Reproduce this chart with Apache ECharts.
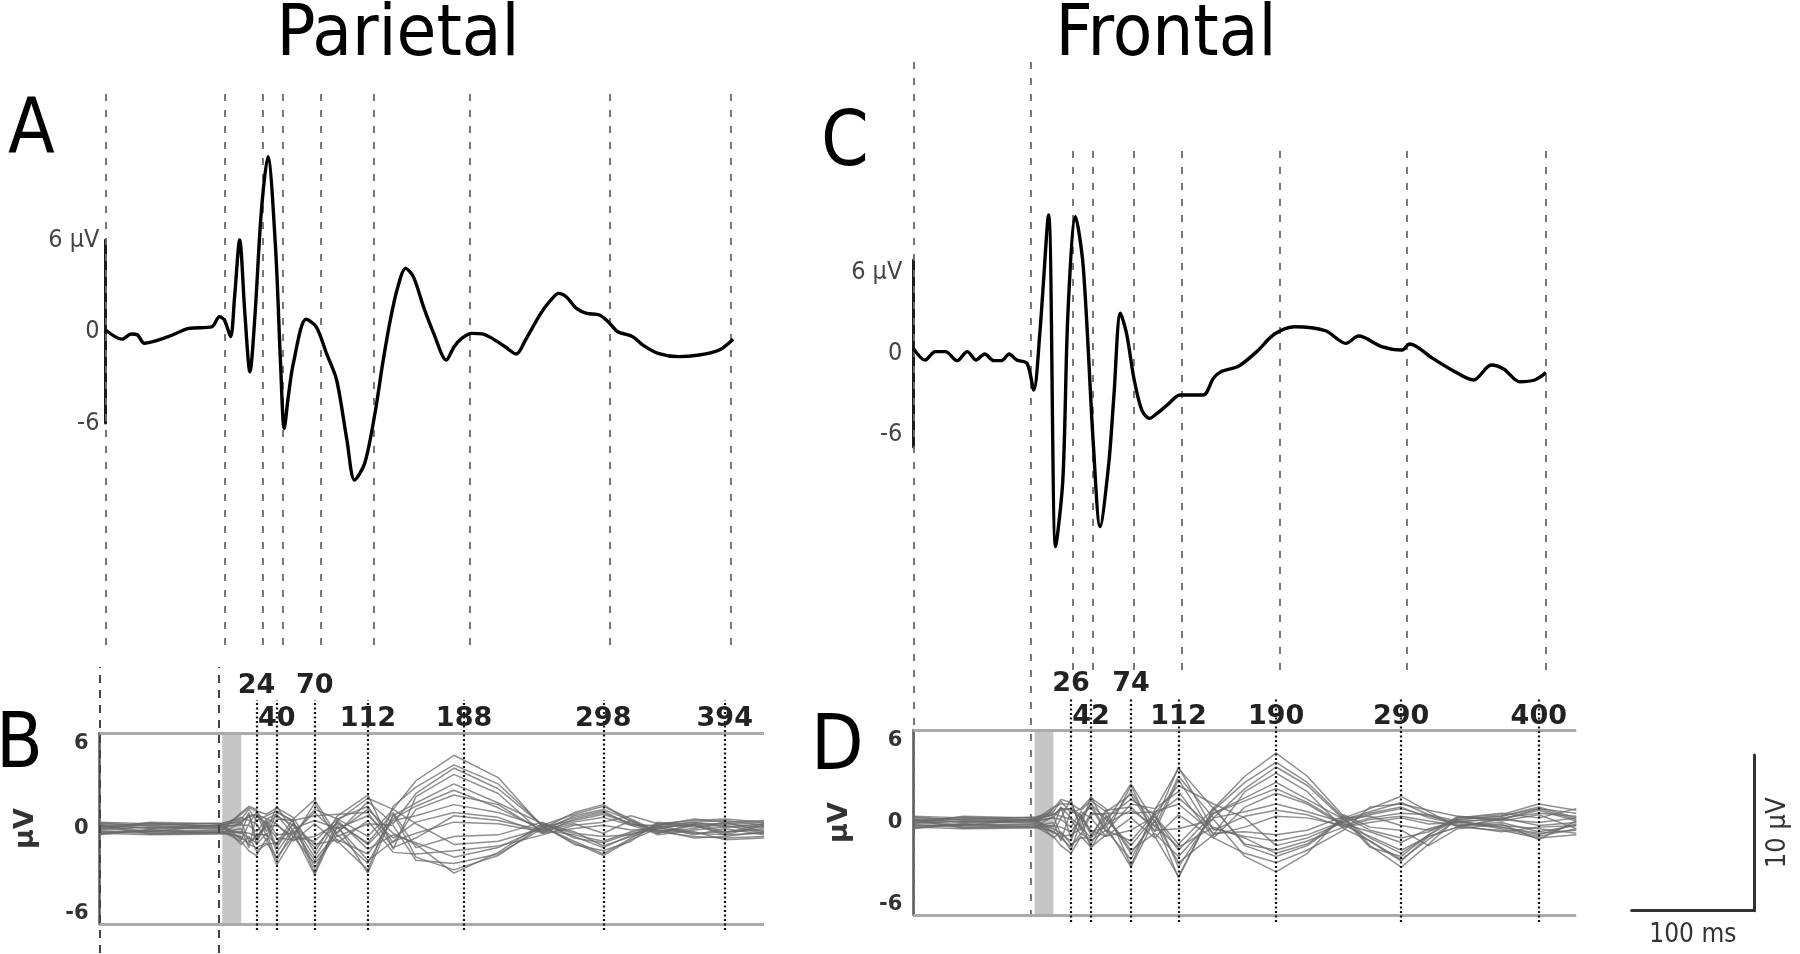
<!DOCTYPE html>
<html>
<head>
<meta charset="utf-8">
<title>Parietal / Frontal ERP</title>
<script src="https://cdn.jsdelivr.net/npm/echarts@6.0.0/dist/echarts.min.js"></script>
<style>
  html, body { margin: 0; padding: 0; background: #fff; }
  #chart { width: 1800px; height: 954px; }
</style>
</head>
<body>
<div id="chart"></div>
<script>
// ---- panel A / C: averaged ERP trace (time in ms, amplitude in µV) ----
const parietalErpMs = [-100, -87, -79.6, -74.7, -69.3, -50.3, -34.2, -16.1, -10, -6, -1.2, 2, 6, 10.1, 14.1, 18.2, 23, 28.3, 34.3, 38.3, 41.2, 44.4, 48.4, 58.5, 66.5, 74.6, 82.6, 90.7, 96.8, 104.8, 112.9, 119, 125, 131, 137.1, 143.2, 151.2, 159.3, 169.3, 175.4, 181.4, 189.5, 197.5, 205.6, 215.7, 224.5, 231.8, 243.9, 252, 258, 264, 272.1, 280.2, 290.3, 298.3, 304.4, 316.5, 324.6, 336.6, 352.8, 368.9, 385, 395.9];
const parietalErpUv = [0.1, -0.5, -0.16, -0.23, -0.77, -0.34, 0.2, 0.3, 0.97, 0.75, -0.34, 2.28, 6.0, 1.19, -2.64, 1.19, 7.75, 11.46, 5.56, -2.09, -6.36, -4.28, -2.09, 0.8, 0.31, -1.43, -3.18, -7.1, -9.74, -8.64, -5.36, -2.09, 0.75, 2.94, 4.14, 3.6, 1.63, -0.12, -1.87, -1.0, -0.45, -0.12, -0.16, -0.45, -1.0, -1.48, -0.56, 1.19, 2.07, 2.5, 2.28, 1.52, 1.19, 1.08, 0.54, 0, -0.34, -0.89, -1.43, -1.65, -1.54, -1.21, -0.51];

const frontalErpMs = [-100, -90.7, -82.7, -74.6, -65.4, -57.3, -50.4, -43.6, -36.3, -30.3, -24.2, -18.2, -10.1, -4.8, 0, 6.9, 12.5, 18.2, 22.2, 28.2, 34.3, 42.4, 47.6, 54.5, 58.5, 63.7, 68.5, 74.6, 80.6, 86.7, 92.7, 100.8, 110.9, 129.1, 137.2, 143.1, 157.3, 171.4, 185.5, 201.6, 225.8, 241.9, 252, 270.1, 286.3, 292.3, 310.5, 326.6, 342.8, 356.8, 366.9, 379, 391.1, 400];
const frontalErpUv = [0.33, -0.42, 0.12, 0.12, -0.46, 0.12, -0.42, -0.03, -0.46, -0.46, -0.03, -0.42, -0.63, -2.34, 1.3, 8.89, -12.4, -8.1, 2.58, 8.78, 5.57, -5.98, -11.1, -7.05, -2.77, 2.58, 1.3, -1.7, -3.63, -4.16, -3.84, -3.3, -2.66, -2.66, -1.59, -1.17, -0.8, 0.12, 1.25, 1.72, 1.46, 0.65, 1.12, 0.44, 0.22, 0.61, -0.31, -1.1, -1.7, -0.74, -1.01, -1.81, -1.7, -1.23];

// ---- latencies marked with guide lines (ms) ----
const parietalPeaks = [24, 40, 70, 112, 188, 298, 394];
const frontalPeaks = [26, 42, 74, 112, 190, 290, 400];
const epochLines = [-100, -6];
const blankWindow = [-3, 12];

// ---- panel B / D: butterfly plot, one row per channel sampled at the knot times ----
const parietalKnotsMs = [-100, -60, -3, 12, 18, 24, 32, 40, 53, 70, 88, 112, 132, 150, 180, 215, 250, 275, 298, 320, 341, 370, 394, 425];
const parietalChannels = [
  [0.3, 0.2, 0.35, 0.6, 1.2, 0.5, 0.8, 1.1, 0.4, -2.8, 0.5, 1.9, 1.2, 3.0, 4.6, 3.2, 0.1, -0.8, -1.6, -0.6, 0.3, 0.5, 0.6, 0.4],
  [-0.2, -0.3, -0.2, -0.8, -1.4, -1.7, -0.6, -2.3, -0.6, 1.6, -0.8, -2.6, 1.4, 2.6, 4.0, 2.8, 0.2, 0.9, 1.4, 0.6, -0.2, -0.5, -0.6, -0.5],
  [0.1, 0.35, 0.1, 0.9, 1.3, 1.1, 0.9, 1.3, 0.7, -1.5, 0.8, 2.1, -1.3, 2.0, 3.4, 2.2, -0.3, 0.6, 1.0, 0.3, 0.1, 0.4, 0.5, 0.2],
  [-0.35, -0.1, -0.3, -0.5, -1.0, -1.2, -0.9, -1.8, -0.5, -2.2, -0.4, -2.2, 0.8, 1.6, 2.8, 1.6, 0.3, -0.5, -1.2, -0.4, 0.2, -0.3, -0.4, -0.3],
  [0.2, -0.2, 0.25, 0.4, 0.8, 0.9, 0.6, 0.9, -0.4, 1.2, 0.6, 1.4, -0.9, 1.2, 2.1, 1.5, -0.2, 0.8, 1.2, 0.5, -0.3, 0.3, 0.3, 0.4],
  [-0.1, 0.1, -0.05, -0.3, -0.6, -0.9, 0.4, -1.2, 0.3, -1.0, -0.7, -1.6, 0.5, 0.8, 1.5, 1.0, 0.1, -0.9, -1.7, -0.7, 0.0, -0.2, -0.7, -0.6],
  [0.4, 0.3, 0.3, 0.7, 0.5, 0.3, -0.8, 0.6, 0.5, 0.8, 0.9, 1.0, -1.2, -0.6, 0.8, 0.5, -0.1, 0.4, 0.7, 0.2, 0.2, 0.6, 0.4, 0.5],
  [-0.3, -0.4, -0.35, -0.2, -0.3, -0.5, 0.2, -0.6, -0.7, -0.5, 0.3, -0.9, 1.0, -1.2, -0.5, -0.4, 0.4, -0.6, -0.9, -0.3, -0.1, -0.6, -0.5, -0.2],
  [0.0, 0.25, 0.15, 0.2, 0.2, -0.2, 0.6, 0.3, -0.8, 0.3, -0.9, 0.5, -1.5, -1.6, -1.4, -1.1, -0.4, 0.2, 0.4, 0.8, 0.3, 0.1, 0.2, -0.3],
  [0.25, 0.0, 0.2, -1.0, -0.5, -1.4, -1.0, -0.9, 0.6, 1.8, -0.5, 0.3, 0.2, -2.0, -2.2, -1.6, 0.0, 1.0, 1.5, 0.4, -0.4, -0.1, 0.1, 0.1],
  [-0.25, -0.15, -0.1, 1.0, 1.4, 1.2, -0.2, 1.4, -0.2, -2.9, 0.2, -2.8, 0.9, -1.8, -2.6, -1.7, 0.2, -1.0, -1.4, -0.8, 0.4, 0.2, -0.3, 0.3],
  [0.1, -0.3, -0.25, 0.0, -1.2, 0.8, 0.3, -1.5, 0.0, 0.5, 0.0, 0.8, -0.6, 0.4, 1.0, 0.7, -0.3, 0.0, 0.2, -0.1, 0.0, 0.3, -0.2, 0.0],
  [0.15, 0.05, 0.2, 0.5, 0.7, 0.9, 0.3, 0.8, 0.2, -1.2, 0.4, -1.0, 0.6, 1.4, 2.4, 1.3, -0.1, -0.4, -0.8, -0.2, 0.1, 0.2, 0.3, 0.1],
  [-0.15, -0.2, -0.15, -0.6, -0.9, -0.4, -0.4, -1.0, 0.3, -1.8, 0.5, -1.3, -0.4, -0.9, -1.8, -1.2, 0.1, 0.5, 0.9, 0.3, -0.1, -0.3, -0.2, -0.1],
  [0.35, 0.15, 0.05, 0.3, 0.9, -0.7, 0.5, -0.4, -0.3, 1.0, -0.3, 1.7, 0.3, 2.2, 3.8, 2.5, 0.2, -0.3, -0.5, -0.4, 0.2, 0.4, 0.1, 0.3],
  [-0.05, 0.4, 0.3, -0.7, 0.3, 1.0, -0.5, 1.0, 0.5, -2.5, 0.1, -2.0, -0.8, -0.3, 0.4, 0.3, -0.2, 0.3, -0.3, 0.5, -0.2, 0.0, 0.4, -0.2],
  [0.2, -0.35, -0.3, 0.4, -0.8, -0.6, 0.1, 0.2, -0.5, -0.8, 0.6, -0.5, 1.2, 0.3, -1.0, -0.8, 0.0, 0.7, 1.1, 0.2, -0.3, 0.2, -0.4, 0.2],
  [-0.4, -0.05, 0.05, -0.3, 1.0, -1.0, -0.3, -2.0, -0.1, -2.0, -0.2, 1.2, -0.3, -1.0, -2.8, -1.5, 0.3, -0.2, -1.1, -0.5, 0.1, -0.4, 0.0, -0.4]
];

const frontalKnotsMs = [-100, -60, -3, 12, 18, 26, 34, 42, 54, 74, 93, 112, 140, 165, 190, 215, 244, 265, 290, 312, 335, 370, 400, 430];
const frontalChannels = [
  [0.3, 0.2, 0.35, 0.7, 1.4, 0.6, 0.9, 1.6, 0.9, -2.8, 0.8, 3.5, 0.9, 3.0, 4.5, 3.0, 0.4, -1.5, -2.9, -1.4, 0.3, 0.5, 1.2, 0.8],
  [-0.2, -0.3, -0.25, -0.9, -1.5, -2.0, -0.9, -1.6, -0.8, 2.4, -0.9, -3.5, 0.8, 2.6, 3.9, 2.6, 0.3, 0.9, 1.7, 0.7, -0.3, -0.5, -1.0, -0.8],
  [0.1, 0.35, 0.15, 1.0, 1.2, 1.2, 0.8, 1.4, 0.7, 1.8, -0.6, 2.8, -0.8, 2.0, 3.2, 2.0, -0.4, -1.2, -2.4, -1.1, 0.2, 0.4, 0.9, 0.6],
  [-0.35, -0.1, -0.3, -0.6, -1.0, -1.6, -0.7, -1.2, -0.5, -2.4, 0.6, -2.9, 0.6, 1.6, 2.6, 1.5, 0.2, 0.7, 1.3, 0.5, 0.1, -0.3, -0.7, -0.5],
  [0.2, -0.2, 0.25, 0.5, 0.9, 0.9, 0.5, 1.0, -0.6, 1.2, 0.9, 2.0, -1.0, 1.0, 1.9, 1.2, -0.2, -0.9, -1.8, -0.9, -0.3, 0.3, 0.6, 0.4],
  [-0.1, 0.1, -0.05, -0.4, -0.7, -1.2, 0.5, -0.8, 0.4, -1.8, -0.7, -2.2, 0.3, 0.7, 1.2, 0.7, 0.0, 0.5, 0.9, 0.4, 0.0, -0.2, -0.4, -0.7],
  [0.4, 0.3, 0.3, 0.6, 0.4, 0.2, -0.8, 0.5, 0.6, 0.6, 0.7, 1.2, -0.7, -0.6, -0.8, -0.5, 0.4, -0.5, -1.0, -0.6, 0.3, 0.6, 0.3, 0.9],
  [-0.3, -0.4, -0.35, -0.2, -0.3, -0.6, 0.3, -0.5, -0.9, -0.5, 0.4, -1.4, 0.9, -1.4, -1.8, -1.2, -0.3, 0.2, 0.4, 0.1, -0.2, -0.6, -0.3, -0.2],
  [0.0, 0.25, 0.15, 0.3, 0.2, -0.3, 0.7, 0.3, -0.9, 0.3, -1.0, 0.5, -1.0, -2.0, -2.6, -1.8, -0.5, 1.0, 1.2, 0.8, 0.4, 0.1, 0.5, -0.4],
  [0.25, 0.0, 0.2, -1.0, -0.6, -1.4, -1.0, -1.0, 0.8, 1.0, -0.5, -0.4, 0.2, -2.2, -3.2, -2.0, 0.5, -0.3, -0.5, -1.5, -0.4, -0.1, -1.1, 0.1],
  [-0.25, -0.15, -0.1, 0.9, 1.5, 1.3, -0.3, 1.7, -0.2, -2.9, 0.2, -3.6, 1.0, -1.5, -2.2, -1.5, 0.2, -1.6, -2.2, -0.8, 0.4, 0.2, 0.0, 0.3],
  [0.1, -0.3, -0.25, 0.0, -1.2, 0.8, 0.3, -1.7, 0.0, 2.5, 0.0, 3.6, -0.5, 0.4, 0.8, 0.5, -0.3, 0.0, 0.3, -0.1, 0.0, 0.3, -0.2, 0.0],
  [0.15, 0.05, 0.2, 0.5, 0.8, 0.9, 0.3, 1.2, 0.2, -1.5, 0.4, -1.8, 0.6, 1.4, 2.2, 1.3, -0.1, -0.6, -1.3, -0.4, 0.1, 0.2, 0.8, 0.1],
  [-0.15, -0.2, -0.15, -0.6, -0.9, -0.8, -0.4, -1.4, 0.3, 1.5, 0.5, 1.6, -0.4, -0.9, -1.2, -0.8, 0.1, 0.6, 1.0, 0.3, -0.1, -0.3, -0.8, -0.1],
  [0.35, 0.15, 0.05, 0.3, 1.0, -1.0, 0.5, -0.6, -0.3, 2.0, -0.3, 3.0, 0.3, 2.2, 3.6, 2.4, 0.2, -1.0, -2.0, -0.8, 0.2, 0.4, 1.0, 0.3],
  [-0.05, 0.4, 0.3, -0.7, 0.3, 1.5, -0.5, 0.6, 0.5, -2.0, 0.1, -2.6, -0.8, -0.3, 0.4, 0.3, -0.2, 0.3, 0.6, 0.5, -0.2, 0.0, -0.6, -0.2],
  [0.2, -0.35, -0.3, 0.4, -0.8, -1.8, 0.1, 1.2, -0.5, -1.2, 0.6, 2.4, 1.2, 0.3, -1.5, -1.0, 0.0, -1.2, -2.5, -0.9, -0.3, 0.2, 0.9, 0.2],
  [-0.4, -0.05, 0.05, -0.3, 1.0, 0.3, -0.3, -1.0, -0.1, 0.8, -0.2, -1.6, -0.3, -1.0, -2.0, -1.4, 0.3, 0.4, -0.2, -0.5, 0.1, -0.4, -0.9, -0.4]
];

const ampTicks = [-6, 0, 6];
const scaleBarMs = [0, 100];
const scaleBarUv = [0, 10];

// ---- styling ----
const NARROW = "'DejaVu Sans Condensed', 'Liberation Sans Narrow', 'Liberation Sans', sans-serif";
const BOLD = "'DejaVu Sans', 'Liberation Sans', sans-serif";

const grids = [];
const xAxes = [];
const yAxes = [];
const series = [];

function addGrid(box, xMin, xMax, yAxis) {
  const i = grids.length;
  grids.push({ left: box[0], top: box[1], width: box[2], height: box[3], containLabel: false, outerBoundsMode: 'none' });
  xAxes.push({ gridIndex: i, type: 'value', min: xMin, max: xMax, show: false });
  yAxes.push(Object.assign({ gridIndex: i, type: 'value', min: 0, max: 1, show: false }, yAxis || {}));
  return i;
}

function erpAxis(margin, inward) {
  const label = {
    margin: margin, color: '#444', fontFamily: NARROW, fontSize: 25,
    formatter: v => (v === ampTicks[2] ? v + ' µV' : String(v))
  };
  if (inward) {
    label.verticalAlignMaxLabel = 'top';
    label.verticalAlignMinLabel = 'bottom';
  }
  return {
    show: true, min: ampTicks[0], max: ampTicks[2], interval: ampTicks[2] - ampTicks[1],
    axisLine: { show: true, onZero: false, lineStyle: { color: '#1c1c1c', width: 3 } },
    axisTick: { show: false }, splitLine: { show: false },
    axisLabel: label
  };
}

function butterflyAxis() {
  return {
    show: true, min: ampTicks[0], max: ampTicks[2], interval: ampTicks[2] - ampTicks[1],
    axisLine: { show: true, onZero: false, lineStyle: { color: '#555', width: 2.5 } },
    axisTick: { show: false }, splitLine: { show: false },
    axisLabel: {
      margin: 11, color: '#333', fontFamily: BOLD, fontWeight: 'bold', fontSize: 21,
      verticalAlignMaxLabel: 'top', verticalAlignMinLabel: 'bottom'
    },
    name: 'µV', nameLocation: 'middle', nameRotate: 90, nameGap: 60,
    nameTextStyle: { color: '#333', fontFamily: BOLD, fontWeight: 'bold', fontSize: 27 }
  };
}

function guides(gi, times, lineStyle) {
  series.push({
    type: 'line', xAxisIndex: gi, yAxisIndex: gi, data: [], silent: true, z: 4,
    markLine: {
      silent: true, animation: false, symbol: ['none', 'none'],
      lineStyle: lineStyle, label: { show: false },
      data: times.map(t => ({ xAxis: t }))
    }
  });
}

function latencyGuides(gi, peaks) {
  series.push({
    type: 'line', xAxisIndex: gi, yAxisIndex: gi, data: [], silent: true, z: 4,
    markLine: {
      silent: true, animation: false, symbol: ['none', 'none'],
      lineStyle: { type: [2, 2.5], color: '#111', width: 2.2 },
      label: {
        show: true, position: 'end', formatter: '{b}',
        fontFamily: BOLD, fontWeight: 'bold', fontSize: 27, color: '#222'
      },
      // crowded neighbours are staggered onto an upper row
      data: peaks.map((t, i) => {
        const upper = i % 2 === 0 && peaks[i + 1] - t < 45;
        return { xAxis: t, name: String(t), label: { distance: upper ? 1 : -32 } };
      })
    }
  });
}

function erpSeries(gi, ms, uv) {
  series.push({
    type: 'line', xAxisIndex: gi, yAxisIndex: gi, z: 6, silent: true,
    data: ms.map((t, i) => [t, uv[i]]),
    showSymbol: false, smooth: 0.3, clip: false,
    lineStyle: { color: '#000', width: 3.4 },
    emphasis: { disabled: true }
  });
}

function butterflySeries(gi, knots, channels) {
  channels.forEach(ch => {
    series.push({
      type: 'line', xAxisIndex: gi, yAxisIndex: gi, z: 2, silent: true,
      data: knots.map((t, i) => [t, ch[i]]),
      showSymbol: false, smooth: false,
      lineStyle: { color: '#6a6a6a', width: 1.5, opacity: 0.75 },
      emphasis: { disabled: true }
    });
  });
  // frame rules at ±6 µV and the blanked stimulus window
  series.push({
    type: 'line', xAxisIndex: gi, yAxisIndex: gi, data: [], silent: true, z: 3,
    markLine: {
      silent: true, animation: false, symbol: ['none', 'none'], label: { show: false },
      lineStyle: { type: 'solid', color: '#ababab', width: 3 },
      data: [{ yAxis: ampTicks[2] }, { yAxis: ampTicks[0] }]
    },
    markArea: {
      silent: true, animation: false,
      itemStyle: { color: '#c6c6c6' },
      data: [[{ xAxis: blankWindow[0] }, { xAxis: blankWindow[1] }]]
    }
  });
}

const dashed = { type: [7, 9], color: '#6a6a6a', width: 1.8 };
const dashedDark = { type: [8, 7], color: '#444', width: 2 };

// ---- left column: parietal ----
const gA = addGrid([105.5, 240, 664.5, 183], -100, 425, erpAxis(6, false));
const gALines = addGrid([105.5, 93, 664.5, 552], -100, 425);
const gB = addGrid([99.5, 733, 664.5, 191], -100, 425, butterflyAxis());
const gBDash = addGrid([99.5, 667, 664.5, 286], -100, 425);
const gBDots = addGrid([99.5, 700, 664.5, 230], -100, 425);

guides(gALines, epochLines.concat(parietalPeaks), dashed);
erpSeries(gA, parietalErpMs, parietalErpUv);
butterflySeries(gB, parietalKnotsMs, parietalChannels);
guides(gBDash, epochLines, dashedDark);
latencyGuides(gBDots, parietalPeaks);

// ---- right column: frontal ----
const gC = addGrid([913.3, 260, 670.6, 187], -100, 430, erpAxis(11, true));
const gCLines = addGrid([913.3, 148, 670.6, 522], -100, 430);
const gCDash = addGrid([913.3, 53, 663, 864], -100, 430);
const gD = addGrid([913.3, 730, 663, 185], -100, 430, butterflyAxis());
const gDDots = addGrid([913.3, 698, 663, 224], -100, 430);

guides(gCLines, frontalPeaks, dashed);
guides(gCDash, epochLines, dashed);
erpSeries(gC, frontalErpMs, frontalErpUv);
butterflySeries(gD, frontalKnotsMs, frontalChannels);
latencyGuides(gDDots, frontalPeaks);

// ---- scale bar ----
const gS = addGrid([1631.7, 755, 122.3, 155.7], scaleBarMs[0], scaleBarMs[1], {
  show: true, min: scaleBarUv[0], max: scaleBarUv[1], position: 'right',
  axisLine: { show: true, onZero: false, lineStyle: { color: '#333', width: 3 } },
  axisTick: { show: false }, axisLabel: { show: false }, splitLine: { show: false },
  name: scaleBarUv[1] + ' µV', nameLocation: 'middle', nameRotate: 90, nameGap: 10,
  nameTextStyle: { color: '#333', fontFamily: NARROW, fontSize: 27 }
});
Object.assign(xAxes[gS], {
  show: true,
  axisLine: { show: true, onZero: false, lineStyle: { color: '#333', width: 3 } },
  axisTick: { show: false }, axisLabel: { show: false }, splitLine: { show: false },
  name: scaleBarMs[1] + ' ms', nameLocation: 'middle', nameGap: 12,
  nameTextStyle: { color: '#333', fontFamily: NARROW, fontSize: 26 }
});

// ---- headings and panel letters ----
function heading(text, x, y, size, align) {
  return {
    type: 'text', x: x, y: y, silent: true, z: 10,
    style: {
      text: text, fill: '#000', fontFamily: NARROW, fontSize: size,
      align: align, textAlign: align, verticalAlign: 'top', textVerticalAlign: 'top'
    }
  };
}

const chart = echarts.init(document.getElementById('chart'), null, { renderer: 'canvas' });
chart.setOption({
  animation: false,
  backgroundColor: '#fff',
  textStyle: { fontFamily: NARROW },
  grid: grids,
  xAxis: xAxes,
  yAxis: yAxes,
  series: series,
  graphic: [
    heading('Parietal', 398, 0, 72, 'center'),
    heading('Frontal', 1166, 0, 72, 'center'),
    heading('A', 8, 94, 76, 'left'),
    heading('B', -4, 709, 76, 'left'),
    heading('C', 821, 107, 76, 'left'),
    heading('D', 811, 711, 76, 'left')
  ]
});
</script>
</body>
</html>
